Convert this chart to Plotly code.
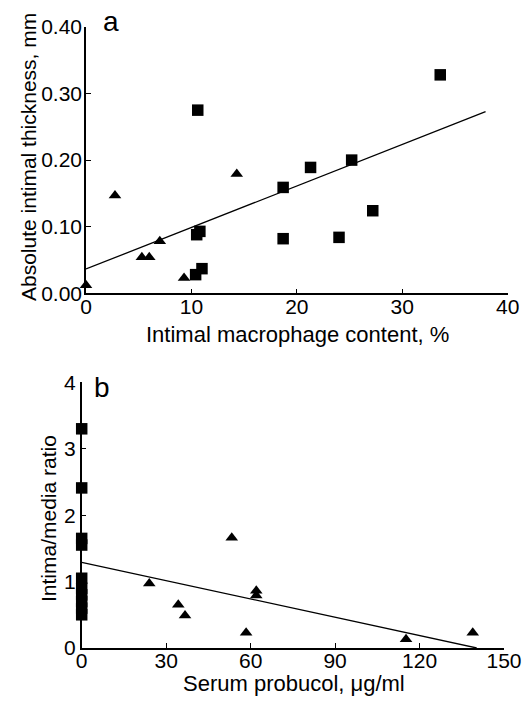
import plotly.graph_objects as go

# ---- Panel a data ----
a_sq_x = [10.6, 10.5, 10.8, 11.0, 10.4, 18.7, 18.7, 21.3, 25.2, 24.0, 27.2, 33.6]
a_sq_y = [0.275, 0.088, 0.093, 0.037, 0.028, 0.159, 0.082, 0.189, 0.200, 0.084, 0.124, 0.328]
a_tri_x = [0.0, 2.75, 5.3, 6.0, 7.0, 9.3, 14.3]
a_tri_y = [0.012, 0.147, 0.054, 0.054, 0.078, 0.023, 0.179]
a_fit_x = [0.0, 37.9]
a_fit_y = [0.0365, 0.2727]
a_xticks = [0, 10, 20, 30, 40]
a_yticks = [0.0, 0.1, 0.2, 0.3, 0.4]

# ---- Panel b data ----
b_sq_x = [0, 0, 0, 0, 0, 0, 0, 0, 0, 0]
b_sq_y = [3.30, 2.41, 1.65, 1.55, 1.05, 0.90, 0.80, 0.70, 0.60, 0.50]
b_tri_x = [24.0, 34.3, 36.7, 53.3, 58.4, 62.0, 62.0, 115.2, 138.9]
b_tri_y = [0.97, 0.65, 0.49, 1.66, 0.23, 0.86, 0.79, 0.13, 0.23]
b_fit_x = [0.0, 140.3]
b_fit_y = [1.29, 0.0]
b_xticks = [0, 30, 60, 90, 120, 150]
b_yticks = [0, 1, 2, 3, 4]

W, H = 523, 701
FONT = "Liberation Sans, Arial, Helvetica, sans-serif"

def px(x):
    return x / W

def py(y):
    return 1 - y / H

fig = go.Figure()

mk_sq = dict(symbol="square", size=11.5, color="black", line=dict(width=0))
mk_tri = dict(symbol="triangle-up", size=11, color="black", line=dict(width=0))

fig.add_trace(go.Scatter(x=a_fit_x, y=a_fit_y, mode="lines", line=dict(color="black", width=1.3),
                         xaxis="x", yaxis="y", showlegend=False, cliponaxis=False))
fig.add_trace(go.Scatter(x=a_sq_x, y=a_sq_y, mode="markers", marker=mk_sq,
                         xaxis="x", yaxis="y", showlegend=False, cliponaxis=False))
fig.add_trace(go.Scatter(x=a_tri_x, y=a_tri_y, mode="markers", marker=mk_tri,
                         xaxis="x", yaxis="y", showlegend=False, cliponaxis=False))

fig.add_trace(go.Scatter(x=b_fit_x, y=b_fit_y, mode="lines", line=dict(color="black", width=1.3),
                         xaxis="x2", yaxis="y2", showlegend=False, cliponaxis=False))
fig.add_trace(go.Scatter(x=b_sq_x, y=b_sq_y, mode="markers", marker=mk_sq,
                         xaxis="x2", yaxis="y2", showlegend=False, cliponaxis=False))
fig.add_trace(go.Scatter(x=b_tri_x, y=b_tri_y, mode="markers", marker=mk_tri,
                         xaxis="x2", yaxis="y2", showlegend=False, cliponaxis=False))

axis_common = dict(showgrid=False, zeroline=False, showline=True, linecolor="black", linewidth=1.5,
                   ticks="inside", ticklen=5, tickwidth=1.2, tickcolor="black", automargin=False,
                   tickfont=dict(family=FONT, size=21, color="black"))

fig.update_layout(
    template="none",
    width=W, height=H,
    margin=dict(l=0, r=0, t=0, b=0),
    paper_bgcolor="white", plot_bgcolor="white",
    xaxis=dict(domain=[px(86), px(507.7)], range=[0, 40], tickvals=a_xticks,
               anchor="y", ticklabelstandoff=-6, **axis_common),
    yaxis=dict(domain=[py(293.3), py(26.9)], range=[0, 0.4], tickvals=a_yticks,
               tickformat=".2f", anchor="x", ticklabelstandoff=-2, **axis_common),
    xaxis2=dict(domain=[px(81.7), px(504)], range=[0, 150], tickvals=b_xticks,
                anchor="y2", ticklabelstandoff=-7, **axis_common),
    yaxis2=dict(domain=[py(648), py(382.3)], range=[0, 4], tickvals=b_yticks,
                anchor="x2", ticklabelstandoff=0, **axis_common),
)

ann = []
ann.append(dict(text="Intimal macrophage content, %", x=px(297), y=py(334), xref="paper", yref="paper",
                showarrow=False, xanchor="center", yanchor="middle",
                font=dict(family=FONT, size=22, color="black")))
ann.append(dict(text="Absolute intimal thickness, mm", x=px(29), y=py(157), xref="paper", yref="paper",
                showarrow=False, xanchor="center", yanchor="middle", textangle=-90,
                font=dict(family=FONT, size=21, color="black")))
ann.append(dict(text="Serum probucol, \u03bcg/ml", x=px(294), y=py(683), xref="paper", yref="paper",
                showarrow=False, xanchor="center", yanchor="middle",
                font=dict(family=FONT, size=22, color="black")))
ann.append(dict(text="Intima/media ratio", x=px(48), y=py(519), xref="paper", yref="paper",
                showarrow=False, xanchor="center", yanchor="middle", textangle=-90,
                font=dict(family=FONT, size=21, color="black")))
ann.append(dict(text="a", x=px(111), y=py(22), xref="paper", yref="paper",
                showarrow=False, xanchor="center", yanchor="middle",
                font=dict(family=FONT, size=28, color="black")))
ann.append(dict(text="b", x=px(102), y=py(387), xref="paper", yref="paper",
                showarrow=False, xanchor="center", yanchor="middle",
                font=dict(family=FONT, size=28, color="black")))
fig.update_layout(annotations=ann)

fig.write_html("out.html", config={"displayModeBar": False},
               post_script="document.body.style.margin='0';document.body.style.padding='0';")
